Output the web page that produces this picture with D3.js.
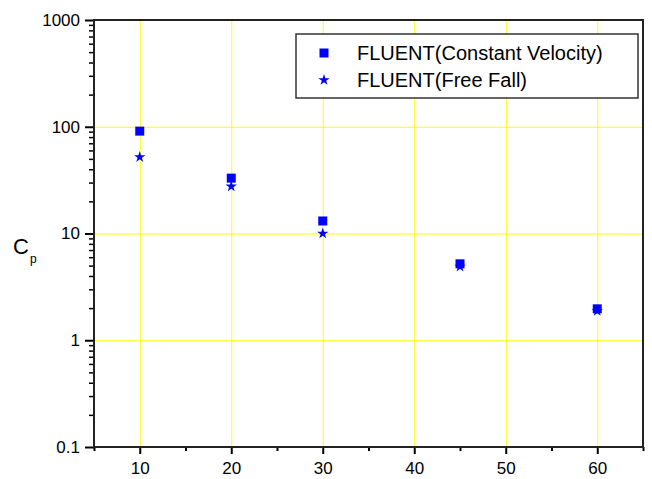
<!DOCTYPE html>
<html>
<head>
<meta charset="utf-8">
<script src="https://cdn.jsdelivr.net/npm/d3@7"></script>
<style>
  html, body { margin: 0; padding: 0; background: #fff; }
  svg { display: block; font-family: "Liberation Sans", Arial, sans-serif; }
</style>
</head>
<body>
<script>
// data
const angles = [10, 20, 30, 45, 60];
const constantVelocity = [91, 33, 13.1, 5.2, 1.97];
const freeFall = [52, 27.6, 10, 4.9, 1.88];
const seriesNames = ["FLUENT(Constant Velocity)", "FLUENT(Free Fall)"];
const xMajorTicks = [10, 20, 30, 40, 50, 60];
const xMinorTicks = [5, 15, 25, 35, 45, 55, 65];
const yMajorTicks = [0.1, 1, 10, 100, 1000];
const yGridTicks = [1, 10, 100];

const width = 652, height = 479;
const margin = { top: 20, right: 9, bottom: 32, left: 94 };

const x = d3.scaleLinear()
  .domain([5, 65])
  .range([margin.left, width - margin.right]);

const y = d3.scaleLog()
  .domain([0.1, 1000])
  .range([height - margin.bottom, margin.top]);

const svg = d3.select("body").append("svg")
  .attr("width", width)
  .attr("height", height);

// yellow grid
svg.append("g")
  .selectAll("line.vx")
  .data(xMajorTicks)
  .enter().append("line")
  .attr("x1", d => x(d) + 0.5).attr("x2", d => x(d) + 0.5)
  .attr("y1", y(1000)).attr("y2", y(0.1))
  .attr("stroke", "#ffff00").attr("stroke-width", 1);
svg.append("g")
  .selectAll("line.hy")
  .data(yGridTicks)
  .enter().append("line")
  .attr("x1", x(5)).attr("x2", x(65))
  .attr("y1", d => y(d) + 0.5).attr("y2", d => y(d) + 0.5)
  .attr("stroke", "#ffff00").attr("stroke-width", 1);

// minor ticks for log axis (2..9 in each decade)
const yMinorTicks = [];
for (let i = 0; i < yMajorTicks.length - 1; ++i) {
  for (let k = 2; k <= 9; ++k) yMinorTicks.push(yMajorTicks[i] * k);
}

// bottom axis
svg.append("g")
  .attr("transform", `translate(0,${y(0.1)})`)
  .call(d3.axisBottom(x).tickValues(xMinorTicks).tickSize(4).tickFormat(""))
  .call(g => g.select(".domain").remove())
  .call(g => g.selectAll("line").attr("stroke-width", 2));
svg.append("g")
  .attr("transform", `translate(0,${y(0.1)})`)
  .call(d3.axisBottom(x).tickValues(xMajorTicks).tickSize(7).tickPadding(8).tickFormat(d3.format("d")))
  .call(g => g.select(".domain").remove())
  .call(g => g.selectAll("line").attr("stroke-width", 2))
  .call(g => g.selectAll("text").attr("font-size", 17).attr("fill", "#000")
    .attr("font-family", "Liberation Sans, Arial, sans-serif"));

// left axis
svg.append("g")
  .attr("transform", `translate(${x(5)},0)`)
  .call(d3.axisLeft(y).tickValues(yMinorTicks).tickSize(5).tickFormat(""))
  .call(g => g.select(".domain").remove())
  .call(g => g.selectAll("line").attr("stroke", "#000").attr("stroke-width", 1.5));
svg.append("g")
  .attr("transform", `translate(${x(5)},0)`)
  .call(d3.axisLeft(y).tickValues(yMajorTicks).tickSize(9).tickPadding(5).tickFormat(d3.format("~g")))
  .call(g => g.select(".domain").remove())
  .call(g => g.selectAll("line").attr("stroke-width", 2))
  .call(g => g.selectAll("text").attr("font-size", 17).attr("fill", "#000")
    .attr("font-family", "Liberation Sans, Arial, sans-serif"));

// frame
svg.append("rect")
  .attr("x", x(5)).attr("y", y(1000))
  .attr("width", x(65) - x(5)).attr("height", y(0.1) - y(1000))
  .attr("fill", "none").attr("stroke", "#222").attr("stroke-width", 2);

// points
const square = d3.symbol().type(d3.symbolSquare).size(81);
const star = d3.symbol().type(d3.symbolStar).size(40);

svg.append("g")
  .selectAll("path")
  .data(angles.map((a, i) => [a, constantVelocity[i]]))
  .enter().append("path")
  .attr("transform", d => `translate(${x(d[0])},${y(d[1])})`)
  .attr("d", square)
  .attr("fill", "#0000ff");

svg.append("g")
  .selectAll("path")
  .data(angles.map((a, i) => [a, freeFall[i]]))
  .enter().append("path")
  .attr("transform", d => `translate(${x(d[0])},${y(d[1])})`)
  .attr("d", star)
  .attr("fill", "#0000ff");

// legend
const legend = svg.append("g");
legend.append("rect")
  .attr("x", 296).attr("y", 34)
  .attr("width", 342).attr("height", 64)
  .attr("fill", "#fff").attr("stroke", "#333").attr("stroke-width", 1.5);
const legendSymbols = [square, star];
seriesNames.forEach((name, i) => {
  const ly = 53 + i * 27;
  legend.append("path")
    .attr("transform", `translate(324,${ly})`)
    .attr("d", legendSymbols[i])
    .attr("fill", "#0000ff");
  legend.append("text")
    .attr("x", 357).attr("y", ly)
    .attr("dy", "0.35em")
    .attr("font-size", 20)
    .attr("fill", "#000")
    .text(name);
});

// y label C_p
const ylab = svg.append("text")
  .attr("x", 13).attr("y", 254)
  .attr("font-size", 22)
  .attr("fill", "#000");
ylab.append("tspan").text("C");
ylab.append("tspan").attr("font-size", 12).attr("dy", 9).attr("dx", 1).text("p");
</script>
</body>
</html>
